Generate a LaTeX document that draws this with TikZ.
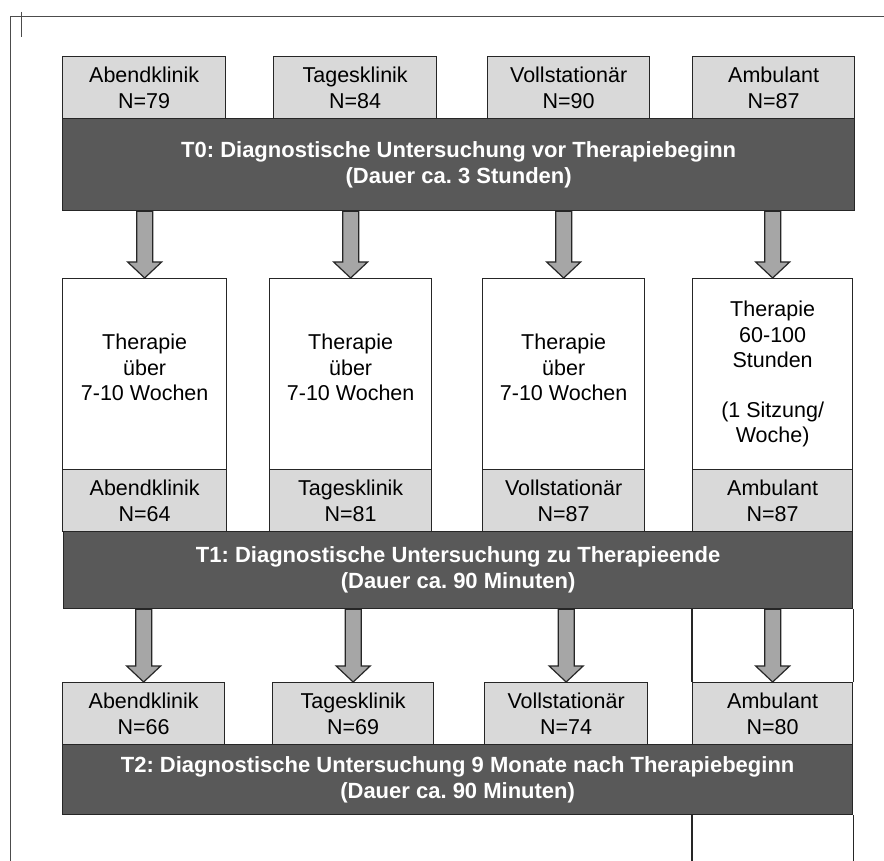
\documentclass[tikz,border=0pt]{standalone}
\usepackage{fontspec}
\setmainfont{Liberation Sans}
\usetikzlibrary{calc}
\frenchspacing

\definecolor{lblgray}{HTML}{D9D9D9}
\definecolor{bargray}{HTML}{595959}
\definecolor{arrowgray}{HTML}{A6A6A6}
\definecolor{linegray}{HTML}{262626}

\tikzset{
  grouplbl/.style={draw=linegray, line width=1.3pt, fill=lblgray, anchor=north west,
    minimum height=62pt, inner sep=0pt, align=center},
  therapybox/.style={draw=linegray, line width=1.3pt, fill=white, anchor=north west,
    minimum height=191pt, inner sep=0pt, align=center},
  phasebar/.style={draw=linegray, line width=1.3pt, fill=bargray, anchor=north west,
    inner sep=0pt, align=center, text=white, font=\fontsize{22}{26}\selectfont\bfseries},
  boxline/.style={draw=linegray, line width=1.3pt},
  flowarrow/.style={draw=linegray, line width=1.2pt, fill=arrowgray},
  frameline/.style={draw=black!70, line width=1pt}
}

% block arrow from the bottom of a bar down to the top of a box
\newcommand{\flowarrow}[2]{%
  \draw[flowarrow] let \p1=(#1.south -| #2.north), \p2=(#2.north) in
    (\x1-8pt,\y1) -- (\x1+8pt,\y1) -- (\x1+8pt,\y2+16pt) -- (\x1+17pt,\y2+16pt)
    -- (\x2,\y2) -- (\x1-17pt,\y2+16pt) -- (\x1-8pt,\y2+16pt) -- cycle;}

\begin{document}
\begin{tikzpicture}[x=1pt, y=-1pt, font=\fontsize{21.5}{25.5}\selectfont]
    \useasboundingbox (0,0) rectangle (884,861);

    % Page frame
    \draw[frameline] (10,861) -- (10,17) -- (884,17);
    \draw[frameline] (21,12) -- (21,37);

    % T0: groups before therapy
    \node[grouplbl, minimum width=163pt] (abend0) at (62,56) {Abendklinik\\N=79};
    \node[grouplbl, minimum width=163pt] (tages0) at (273,56) {Tagesklinik\\N=84};
    \node[grouplbl, minimum width=162pt] (voll0) at (487,56) {Vollstationär\\N=90};
    \node[grouplbl, minimum width=162pt] (amb0) at (692,56) {Ambulant\\N=87};
    \node[phasebar, minimum width=792pt, minimum height=92pt] (t0) at (62,118)
        {T0: Diagnostische Untersuchung vor Therapiebeginn\\(Dauer ca. 3 Stunden)};

    % Therapy boxes
    \node[therapybox, minimum width=164pt] (abendTh) at (62,278) {Therapie\\über\\7-10 Wochen\\[-12pt]};
    \node[therapybox, minimum width=162pt] (tagesTh) at (269,278) {Therapie\\über\\7-10 Wochen\\[-12pt]};
    \node[therapybox, minimum width=162pt] (vollTh) at (482,278) {Therapie\\über\\7-10 Wochen\\[-12pt]};
    \node[therapybox, minimum width=160pt] (ambTh) at (692,278)
        {Therapie\\60-100\\Stunden\\[24pt](1 Sitzung/\\Woche)};

    % T1: groups at end of therapy
    \node[grouplbl, minimum width=164pt] (abend1) at (62,469) {Abendklinik\\N=64};
    \node[grouplbl, minimum width=162pt] (tages1) at (269,469) {Tagesklinik\\N=81};
    \node[grouplbl, minimum width=162pt] (voll1) at (482,469) {Vollstationär\\N=87};
    \node[grouplbl, minimum width=160pt] (amb1) at (692,469) {Ambulant\\N=87};
    \node[phasebar, minimum width=789pt, minimum height=77pt] (t1) at (63,531)
        {T1: Diagnostische Untersuchung zu Therapieende\\(Dauer ca. 90 Minuten)};

    % T2: groups after 9 months
    \node[grouplbl, minimum width=162pt] (abend2) at (62,682) {Abendklinik\\N=66};
    \node[grouplbl, minimum width=161pt] (tages2) at (272,682) {Tagesklinik\\N=69};
    \node[grouplbl, minimum width=163pt] (voll2) at (484,682) {Vollstationär\\N=74};
    \node[grouplbl, minimum width=160pt] (amb2) at (692,682) {Ambulant\\N=80};
    \node[phasebar, minimum width=790pt, minimum height=70pt] (t2) at (62,744)
        {T2: Diagnostische Untersuchung 9 Monate nach Therapiebeginn\\(Dauer ca. 90 Minuten)};

    % Ambulant column runs on
    \draw[boxline] (t1.south -| amb2.west) -- (amb2.north west);
    \draw[boxline] (t1.south -| amb2.east) -- (amb2.north east);
    \draw[boxline] (t2.south -| amb2.west) -- ++(0,47);
    \draw[boxline] (t2.south -| amb2.east) -- ++(0,47);

    % Arrows
    \flowarrow{t0}{abendTh}
    \flowarrow{t0}{tagesTh}
    \flowarrow{t0}{vollTh}
    \flowarrow{t0}{ambTh}
    \flowarrow{t1}{abend2}
    \flowarrow{t1}{tages2}
    \flowarrow{t1}{voll2}
    \flowarrow{t1}{amb2}
\end{tikzpicture}
\end{document}
